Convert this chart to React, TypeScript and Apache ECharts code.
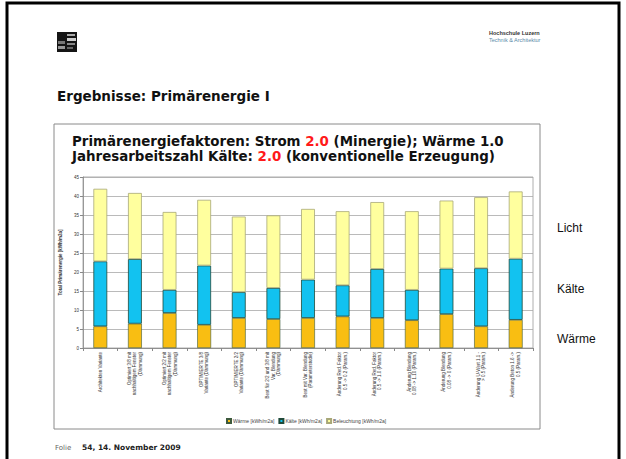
import React, { useEffect, useRef } from "react";
import * as echarts from "echarts";

const categories = [
  "Architekten Variante",
  "Optimiert 3/8 mit\nnachhaltigem Fenster\n(Dämmung)",
  "Optimiert 2/2 mit\nnachhaltigem Fenster\n(Dämmung)",
  "OPTIMIERTE 3/8\nVariante (Dämmung)",
  "OPTIMIERTE 2/2\nVariante (Dämmung)",
  "Best für 2/2 und 3/8 mit\nVar. Blendung\n(Dämmung)",
  "Best mit Var. Blendung\n(Parameterstudie)",
  "Änderung Red. Faktor\n0.5 -> 0.2 (Param.)",
  "Änderung Red. Faktor\n0.5 -> 1.0 (Param.)",
  "Änderung Blendung\n0.08 -> 1.10 (Param.)",
  "Änderung Blendung\n0.08 -> 0 (Param.)",
  "Änderung U-Wert 1.1 -\n> 0.5 (Param.)",
  "Änderung Beton 1.6 ->\n0.5 (Param.)",
];

const waerme = [5.7, 6.4, 9.2, 6.1, 7.9, 7.6, 7.9, 8.3, 7.9, 7.3, 8.9, 5.7, 7.4];
const kaelte = [17.1, 17.0, 6.1, 15.6, 6.8, 8.2, 10.1, 8.2, 12.9, 8.0, 12.0, 15.3, 16.1];
const beleuchtung = [19.1, 17.4, 20.5, 17.3, 19.9, 19.1, 18.6, 19.5, 17.6, 20.7, 17.9, 18.7, 17.7];

const seriesNames = ["Wärme [kWh/m2a]", "Kälte [kWh/m2a]", "Beleuchtung [kWh/m2a]"];
const sideLabels = ["Licht", "Kälte", "Wärme"];

export default function App() {
  const ref = useRef<HTMLDivElement>(null);
  useEffect(() => {
    if (!ref.current) return;
    const chart = echarts.init(ref.current, null, { renderer: "svg" });
    const barBase = { type: "bar", stack: "total", barWidth: "40%" } as any;
    chart.setOption({
      animation: false,
      backgroundColor: "#ffffff",
      title: {
        left: 72,
        top: 134,
        padding: 0,
        text: "Primärenergiefaktoren: Strom {r|2.0} (Minergie); Wärme 1.0\nJahresarbeitszahl Kälte: {r|2.0} (konventionelle Erzeugung)",
        textStyle: {
          fontFamily: "DejaVu Sans",
          fontWeight: "bold",
          fontSize: 13.4,
          lineHeight: 15,
          color: "#111",
          rich: {
            r: { color: "#ff1a1a", fontFamily: "DejaVu Sans", fontWeight: "bold", fontSize: 13.4, lineHeight: 15 },
          },
        },
      },
      legend: {
        top: 418,
        left: 226,
        padding: 0,
        itemWidth: 4,
        itemHeight: 4,
        itemGap: 4,
        icon: "rect",
        textStyle: { fontSize: 5, color: "#444", fontFamily: "Liberation Sans", padding: [0, 0, 0, -3] },
        data: seriesNames,
      },
      grid: {
        left: 83,
        top: 177,
        width: 450,
        height: 171,
        show: true,
        borderColor: "#999",
        borderWidth: 0.8,
        containLabel: false,
      },
      xAxis: {
        type: "category",
        data: categories,
        axisLine: { lineStyle: { color: "#888", width: 0.8 } },
        axisTick: { show: true, length: 3, lineStyle: { color: "#888" } },
        axisLabel: {
          rotate: 90,
          interval: 0,
          fontSize: 4.5,
          lineHeight: 5.5,
          color: "#333",
          margin: 4,
          fontFamily: "Liberation Sans",
        },
      },
      yAxis: {
        type: "value",
        min: 0,
        max: 45,
        interval: 5,
        name: "Total Primärenergie [kWh/m2a]",
        nameLocation: "middle",
        nameRotate: 90,
        nameGap: 13,
        nameTextStyle: { fontSize: 4.5, fontWeight: "bold", color: "#333", fontFamily: "Liberation Sans" },
        axisLine: { show: true, lineStyle: { color: "#888", width: 0.8 } },
        axisTick: { show: true, length: 3, lineStyle: { color: "#888" } },
        axisLabel: { fontSize: 4.5, color: "#333", margin: 4, fontFamily: "Liberation Sans" },
        splitLine: { lineStyle: { color: "#a8a8a8", width: 0.8 } },
      },
      series: [
        { ...barBase, name: seriesNames[0], data: waerme, itemStyle: { color: "#F9BE12", borderColor: "#3d5a3d", borderWidth: 0.6 } },
        { ...barBase, name: seriesNames[1], data: kaelte, itemStyle: { color: "#12C2F0", borderColor: "#1f4a3a", borderWidth: 0.8 } },
        { ...barBase, name: seriesNames[2], data: beleuchtung, itemStyle: { color: "#FFFF9E", borderColor: "#a8a878", borderWidth: 0.8 } },
      ],
      graphic: [
        { type: "rect", shape: { x: 7, y: 3, width: 612, height: 480 }, style: { fill: "none", stroke: "#000", lineWidth: 3 }, silent: true },
        { type: "rect", shape: { x: 57, y: 32, width: 20, height: 20 }, style: { fill: "#151515" } },
        { type: "rect", shape: { x: 58, y: 41, width: 7, height: 3 }, style: { fill: "#777" } },
        { type: "rect", shape: { x: 58, y: 46, width: 7, height: 3 }, style: { fill: "#999" } },
        { type: "rect", shape: { x: 67, y: 34, width: 8, height: 2 }, style: { fill: "#aaa" } },
        { type: "rect", shape: { x: 67, y: 38, width: 9, height: 3 }, style: { fill: "#ccc" } },
        { type: "rect", shape: { x: 67, y: 43, width: 8, height: 2 }, style: { fill: "#888" } },
        { type: "rect", shape: { x: 67, y: 47, width: 6, height: 2 }, style: { fill: "#666" } },
        { type: "text", x: 489, y: 30, style: { text: "Hochschule Luzern", fontSize: 5.5, fontWeight: "bold", fill: "#333", fontFamily: "Liberation Sans" } },
        { type: "text", x: 489, y: 37, style: { text: "Technik & Architektur", fontSize: 5.5, fill: "#5a8aa8", fontFamily: "Liberation Sans" } },
        { type: "text", x: 57, y: 89, style: { text: "Ergebnisse: Primärenergie I", fontSize: 13.5, fontWeight: "bold", fill: "#111", fontFamily: "DejaVu Sans" } },
        { type: "rect", shape: { x: 54, y: 124, width: 486, height: 305 }, style: { fill: "none", stroke: "#8a8a8a", lineWidth: 1 } },
        { type: "text", x: 557, y: 222, style: { text: sideLabels[0], fontSize: 12, fill: "#111", fontFamily: "Liberation Sans" } },
        { type: "text", x: 557, y: 283, style: { text: sideLabels[1], fontSize: 12, fill: "#111", fontFamily: "Liberation Sans" } },
        { type: "text", x: 557, y: 333, style: { text: sideLabels[2], fontSize: 12, fill: "#111", fontFamily: "Liberation Sans" } },
        { type: "text", x: 55, y: 444, style: { text: "Folie", fontSize: 7, fill: "#666", fontFamily: "DejaVu Sans" } },
        { type: "text", x: 82, y: 443, style: { text: "54, 14. November 2009", fontSize: 7.5, fontWeight: "bold", fill: "#222", fontFamily: "DejaVu Sans" } },
      ],
    });
    return () => chart.dispose();
  }, []);
  return <div ref={ref} style={{ position: "fixed", left: 0, top: 0, width: 626, height: 459 }} />;
}
